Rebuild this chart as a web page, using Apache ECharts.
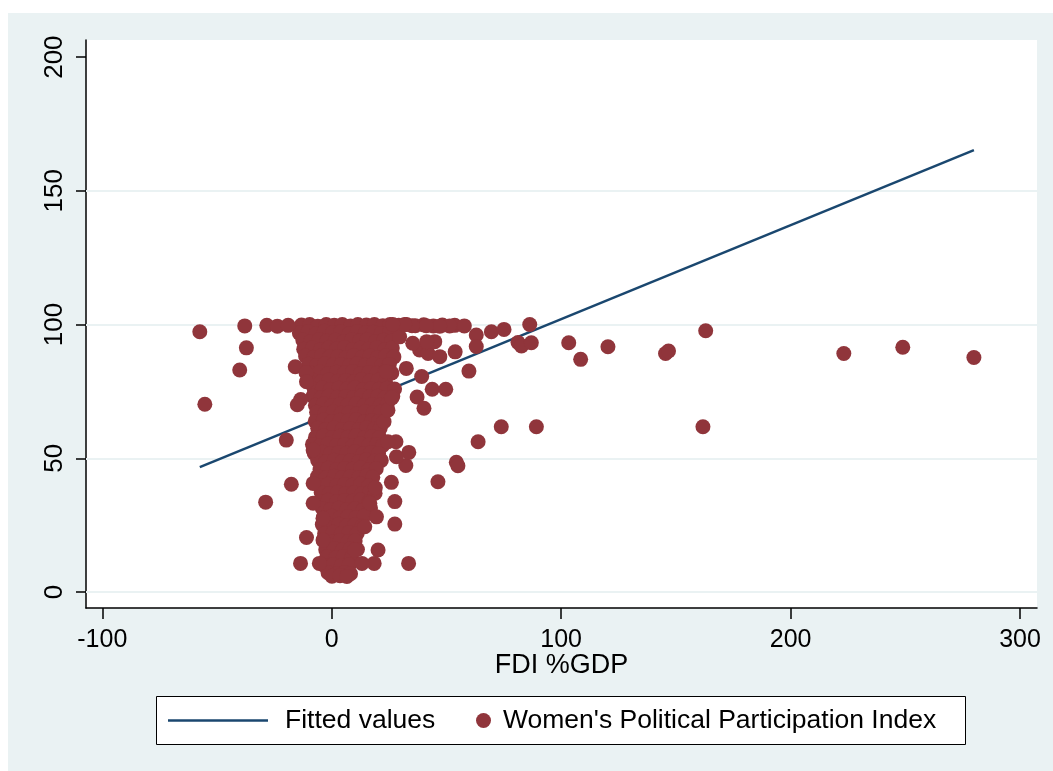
<!DOCTYPE html>
<html>
<head>
<meta charset="utf-8">
<title>FDI and Women's Political Participation</title>
<script src="https://cdn.jsdelivr.net/npm/echarts@6/dist/echarts.min.js"></script>
<style>
  html, body { margin: 0; padding: 0; background: #ffffff; }
  #chart { width: 1053px; height: 771px; }
</style>
</head>
<body>
<div id="chart"></div>
<script>
// Axis ticks
const xTicks = [-100, 0, 100, 200, 300];
const yTicks = [0, 50, 100, 150, 200];
const yGridValues = [0, 50, 100, 150];

// Linear fit of the index on FDI (end points of the fitted segment)
const fitFdi = [-57.5, 279.9];
const fitValues = [46.7, 165.2];

// Country-year observations: [FDI %GDP, Women's Political Participation Index]
const obsCore = [
  [-13.2,99.8],[-9.6,100],[-6.1,99.4],[-2.4,100],[1.1,99.7],[4.6,100],[8.2,99.5],[11.4,100],[15.1,99.8],[18.6,100],[22.3,99.6],[25.4,100],[29.2,99.7],[32.6,100],[36.4,99.6],[40.1,99.9],[44.3,99.5],[48.2,99.8],[53.6,99.7],
  [-14.1,96.8],[-10.3,97.3],[-6.7,96.6],[-3.2,97.5],[0.4,96.9],[3.9,97.2],[7.6,96.5],[11.2,97.4],[14.7,96.8],[18.1,97.1],[21.6,96.7],[25.2,97.3],
  [-12.6,94.2],[-9.1,93.7],[-5.4,94.4],[-2.1,93.8],[1.6,94.1],[5.2,93.6],[8.7,94.3],[12.1,93.9],[15.4,94.2],[19.2,93.7],[22.7,94.1],[26.1,93.8],
  [-12.2,90.8],[-8.4,91.3],[-4.9,90.6],[-1.3,91.2],[2.2,90.9],[5.6,91.4],[9.1,90.7],[12.6,91.1],[16.1,90.8],[19.6,91.3],[23.2,90.6],[26.4,91.2],
  [-11.4,88.2],[-7.9,87.7],[-4.4,88.3],[-0.8,87.9],[2.7,88.1],[6.1,87.6],[9.6,88.4],[13.2,87.8],[16.7,88.2],[20.1,87.7],[23.6,88.3],[27.1,87.9],
  [-10.1,85.2],[-6.6,84.7],[-3.1,85.3],[0.6,84.9],[4.1,85.1],[7.7,84.6],[11.1,85.4],[14.6,84.8],[18.2,85.2],[21.7,84.7],[25.1,85.1],
  [-8.6,81.8],[-5.1,82.3],[-1.6,81.7],[2.1,82.2],[5.6,81.9],[9.2,82.4],[12.6,81.6],[16.1,82.1],[19.7,81.8],[23.1,82.3],[26.2,81.9],
  [-8.1,79.2],[-4.6,78.7],[-1.1,79.3],[2.6,78.8],[6.2,79.1],[9.6,78.6],[13.1,79.4],[16.6,78.9],[20.2,79.2],[23.4,78.7],
  [-7.6,75.8],[-4.1,76.3],[-0.6,75.7],[3.1,76.2],[6.6,75.9],[10.1,76.4],[13.6,75.6],[17.2,76.1],[20.6,75.8],[24.1,76.2],[27.4,75.9],
  [-8.2,73.2],[-4.6,72.7],[-1.2,73.3],[2.4,72.8],[6.1,73.1],[9.5,72.6],[13.1,73.4],[16.4,72.9],[20.1,73.2],[23.3,72.7],[26.6,73.1],
  [-7.1,69.8],[-3.6,70.3],[0.1,69.7],[3.6,70.2],[7.1,69.9],[10.6,70.4],[14.1,69.6],[17.6,70.1],[21.1,69.8],[24.2,70.2],
  [-6.6,67.2],[-3.1,66.7],[0.6,67.3],[4.1,66.8],[7.6,67.1],[11.1,66.6],[14.6,67.4],[18.1,66.9],[21.2,67.2],
  [-7.2,63.8],[-3.6,64.3],[0.1,63.7],[3.6,64.2],[7.2,63.9],[10.6,64.4],[14.2,63.6],[17.6,64.1],[20.4,63.8],
  [-6.1,61.2],[-2.6,60.7],[1.1,61.3],[4.6,60.8],[8.1,61.1],[11.6,60.6],[15.2,61.4],[18.6,60.9],[21.1,61.2],
  [-7.1,57.8],[-3.6,58.3],[0.2,57.7],[3.6,58.2],[7.1,57.9],[10.6,58.4],[14.1,57.6],[17.6,58.1],[20.8,57.8],
  [-8.4,55.2],[-5.1,54.7],[-1.6,55.3],[2.1,54.8],[5.6,55.1],[9.1,54.6],[12.6,55.4],[16.1,54.9],[19.6,55.2],[22.1,54.7],
  [-7.6,51.8],[-4.1,52.3],[-0.6,51.7],[3.1,52.2],[6.6,51.9],[10.1,52.4],[13.6,51.6],[17.1,52.1],[20.4,51.8],
  [-6.1,49.2],[-2.6,48.7],[1.1,49.3],[4.6,48.8],[8.1,49.1],[11.6,48.6],[15.1,49.4],[18.6,48.9],[21.6,49.2],
  [-5.1,45.8],[-1.6,46.3],[2.1,45.7],[5.6,46.2],[9.1,45.9],[12.6,46.4],[16.1,45.6],[19.4,46.1],
  [-6.2,43.2],[-2.6,42.7],[1.1,43.3],[4.6,42.8],[8.1,43.1],[11.6,42.6],[15.1,43.4],[17.9,42.9],
  [-5.1,39.8],[-1.6,40.3],[2.1,39.7],[5.6,40.2],[9.1,39.9],[12.6,40.4],[16.1,39.6],
  [-4.6,37.2],[-1.1,36.7],[2.6,37.3],[6.1,36.8],[9.6,37.1],[13.1,36.6],[16.6,37.4],[18.9,36.9],
  [-5.1,33.8],[-1.6,34.3],[2.1,33.7],[5.6,34.2],[9.1,33.9],[12.6,34.4],[16.2,33.6],
  [-4.1,31.2],[-0.6,30.7],[3.1,31.3],[6.6,30.8],[10.1,31.1],[13.6,30.6],[16.9,31.4],
  [-3.6,27.8],[0.1,28.3],[3.6,27.7],[7.1,28.2],[10.6,27.9],[14.1,28.4],
  [-4.1,25.2],[-0.6,24.7],[3.1,25.3],[6.6,24.8],[10.1,25.1],[13.2,24.6],
  [-3.1,21.8],[0.6,22.3],[4.1,21.7],[7.6,22.2],[11.1,21.9],
  [-3.6,19.2],[0.1,18.7],[3.6,19.3],[7.1,18.8],[10.2,19.1],
  [-2.6,15.8],[1.1,16.3],[4.6,15.7],[8.1,16.2],[11.2,15.9],
  [-2.1,13.2],[1.6,12.7],[5.1,13.3],[8.6,12.8],
  [-3.1,9.8],[0.6,10.3],[4.1,9.7],[7.6,10.2],
  [-1.6,7.2],[2.1,6.7],[5.6,7.3],[8.2,6.8],
  [0.1,5.9],[3.6,6.1],[6.6,5.8]
];

const obsSpread = [
  [-57.5,97.3],[-55.3,70.2],[-40.1,83.0],[-37.9,99.5],[-37.2,91.3],[-28.8,33.6],[-28.3,99.7],[-23.7,99.4],
  [-19.0,99.7],[-15.9,84.2],[-11.2,82.0],[-11.0,78.6],[-13.5,72.0],[-15.0,70.0],[-19.8,56.8],[-17.6,40.3],
  [-11.0,20.4],[-13.6,10.7],[-5.4,10.7],[-8.1,53.1],[-8.1,40.6],[-8.1,33.2],
  [32.5,83.6],[39.2,80.6],[43.8,75.8],[49.7,75.8],[37.2,72.9],[40.2,68.7],[59.8,82.6],[63.8,56.2],
  [54.3,48.5],[55.0,47.2],[46.3,41.2],[33.5,10.7],[27.5,33.8],[27.5,25.4],[20.2,15.7],[18.5,10.7],
  [13.2,10.7],[19.5,28.1],[19.0,39.0],[26.0,41.0],[32.3,47.3],[33.6,52.2],[28.2,50.6],[28.0,56.2],
  [24.5,56.2],[22.8,63.7],[24.5,68.0],[26.2,72.6],[23.8,82.4],[38.3,90.5],[42.0,89.2],[47.1,88.0],
  [53.8,89.8],[44.9,93.6],[41.4,93.6],[35.3,93.0],[29.6,95.4],[57.8,99.5],[51.4,99.5],[47.1,99.4],
  [41.2,99.6],[35.0,99.6],[31.8,100],[26.6,100],[63.0,96.1],[63.0,91.8],[69.6,97.3],[75.1,98.2],
  [86.3,100],[81.2,93.3],[82.7,92.0],[87.0,93.2],[103.3,93.2],[108.5,87.0],[120.4,91.7],[145.5,89.2],
  [146.8,90.1],[163.0,97.7],[161.8,61.8],[89.2,61.8],[73.9,61.8],[14.4,24.4],[16.6,33.2],[-3.8,27.6],
  [-3.8,19.4],[10.0,15.7],[223.2,89.2],[248.9,91.5],[279.9,87.7]
];

const seriesNames = ['Fitted values', "Women's Political Participation Index"];

const FONT = 'Liberation Sans, Arial, Helvetica, sans-serif';
const BG = '#EAF2F3';
const MARKER = '#90353B';
const NAVY = '#1A476F';

const chart = echarts.init(document.getElementById('chart'), null, { renderer: 'canvas' });

chart.setOption({
  animation: false,
  backgroundColor: '#ffffff',
  textStyle: { fontFamily: FONT },
  graphic: [
    { type: 'rect', z: -10, silent: true, shape: { x: 8, y: 13, width: 1045, height: 758 }, style: { fill: BG } },
    { type: 'rect', z: 5, silent: true, shape: { x: 156.5, y: 696.5, width: 809, height: 48 }, style: { fill: '#ffffff', stroke: '#000000', lineWidth: 1 } }
  ],
  grid: {
    left: 86, top: 40, right: 16, bottom: 163,
    show: true, backgroundColor: '#ffffff', borderWidth: 0
  },
  xAxis: {
    type: 'value',
    min: -107.1, max: 307.4,
    name: 'FDI %GDP',
    nameLocation: 'middle',
    nameGap: 44,
    nameMoveOverlap: false,
    nameTextStyle: { fontSize: 27, color: '#000', fontFamily: FONT },
    axisLine: { show: true, onZero: false, lineStyle: { color: '#000', width: 1.5 } },
    axisTick: { show: true, length: 11, customValues: xTicks, lineStyle: { color: '#000', width: 1.5 } },
    axisLabel: { customValues: xTicks, fontSize: 25, color: '#000', margin: 20, fontFamily: FONT },
    splitLine: { show: false }
  },
  yAxis: {
    type: 'value',
    min: -5.98, max: 206.4,
    axisLine: { show: true, onZero: false, lineStyle: { color: '#000', width: 1.5 } },
    axisTick: { show: true, length: 10, customValues: yTicks, lineStyle: { color: '#000', width: 1.5 } },
    axisLabel: { customValues: yTicks, rotate: 90, fontSize: 26, color: '#000', margin: 18, fontFamily: FONT },
    splitLine: { show: false }
  },
  legend: [
    {
      data: [{ name: seriesNames[0], icon: 'rect' }],
      left: 168, top: 707,
      itemWidth: 100, itemHeight: 2.5,
      padding: 0,
      textStyle: { fontSize: 26.5, color: '#000', fontFamily: FONT, padding: [0, 0, 0, 12] },
      selectedMode: false, z: 6
    },
    {
      data: [{ name: seriesNames[1], icon: 'circle' }],
      left: 476, top: 707,
      itemWidth: 15, itemHeight: 15,
      padding: 0,
      textStyle: { fontSize: 26.5, color: '#000', fontFamily: FONT, padding: [0, 0, 0, 7] },
      selectedMode: false, z: 6
    }
  ],
  series: [
    {
      name: 'gridlines',
      type: 'line',
      data: [],
      z: 1,
      silent: true,
      markLine: {
        z: 1,
        silent: true,
        symbol: ['none', 'none'],
        label: { show: false },
        lineStyle: { color: BG, width: 2, type: 'solid' },
        emphasis: { disabled: true },
        data: yGridValues.map(v => ({ yAxis: v }))
      }
    },
    {
      name: seriesNames[0],
      type: 'line',
      z: 2,
      data: fitFdi.map((x, i) => [x, fitValues[i]]),
      symbol: 'none',
      lineStyle: { color: NAVY, width: 2.5 },
      itemStyle: { color: NAVY },
      silent: true
    },
    {
      name: seriesNames[1],
      type: 'scatter',
      z: 3,
      data: obsCore.concat(obsSpread),
      symbol: 'circle',
      symbolSize: 15,
      itemStyle: { color: MARKER, opacity: 1 },
      silent: true
    }
  ]
});
</script>
</body>
</html>
